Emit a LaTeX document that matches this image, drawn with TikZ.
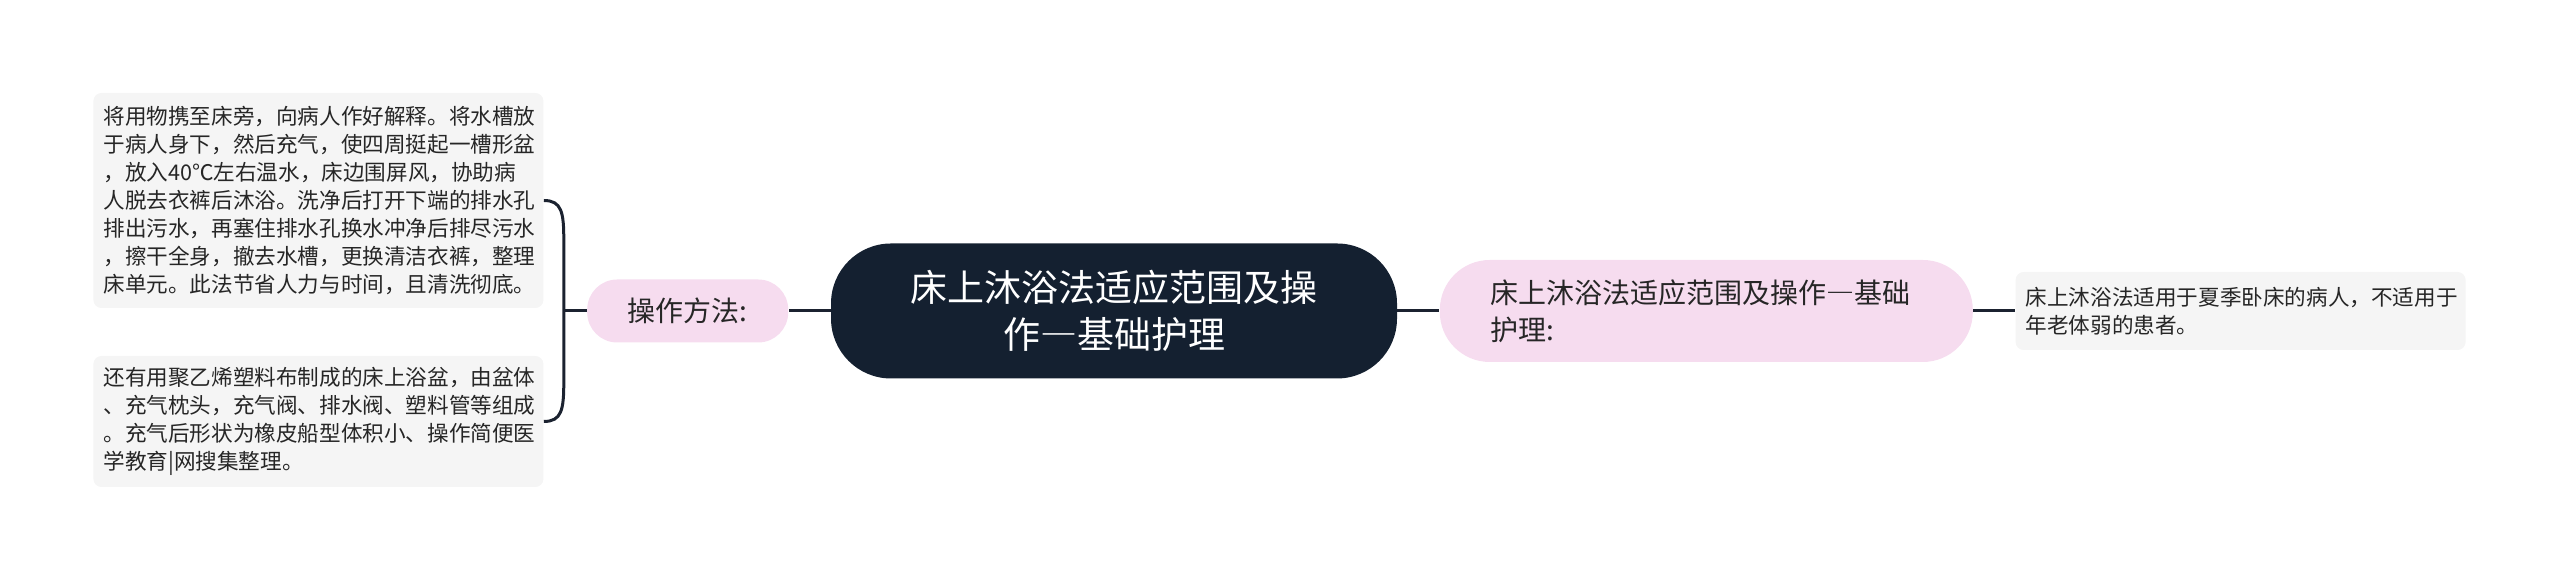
\documentclass[tikz,border=0pt]{standalone}
\usepackage{fontspec}
\newfontfamily\cjk{Noto Sans CJK SC}
\usetikzlibrary{positioning}
\definecolor{rootblue}{HTML}{142030}
\definecolor{pillpink}{HTML}{F6DCEF}
\definecolor{boxgray}{HTML}{F5F5F5}
\definecolor{linkdark}{HTML}{1B2230}

\begin{document}
\begin{tikzpicture}[
	% One unit is one pixel of the reference.
	x=0.5pt, y=0.5pt
	]
	% Define custom styles to make the code cleaner and more reusable.
	\tikzset{
		root/.style={fill=rootblue, text=white, rounded corners=30pt, minimum width=283pt, minimum height=67.5pt, align=center, font=\cjk\fontsize{18.5}{23.5}\selectfont},
		pill/.style={fill=pillpink, text=black!85, rounded corners=15pt, minimum height=31.5pt, align=left, font=\cjk\fontsize{14}{18.5}\selectfont},
		textbox/.style={fill=boxgray, text=black!85, rounded corners=4pt, inner xsep=5pt, inner ysep=5pt, text width=215pt, align=left, font=\cjk\fontsize{10.8}{14}\selectfont},
		link/.style={draw=linkdark, line width=1.5pt}
	}
	\useasboundingbox (0,0) rectangle (2560,581);

	% === NODES ===
	% The root sits in the middle, the branches hang off both sides.

	\node[root] (root) at (1114,270) {床上沐浴法适应范围及操\\作―基础护理};
	\node[pill, minimum width=100.5pt, left=21pt of root] (method) {操作方法:};
	\coordinate[left=11.5pt of method] (brace);
	\node[textbox, minimum height=107.5pt, left=10pt of brace, yshift=55.25pt] (stepsA) {将用物携至床旁，向病人作好解释。将水槽放\\于病人身下，然后充气，使四周挺起一槽形盆\\，放入40℃左右温水，床边围屏风，协助病\\人脱去衣裤后沐浴。洗净后打开下端的排水孔\\排出污水，再塞住排水孔换水冲净后排尽污水\\，擦干全身，撤去水槽，更换清洁衣裤，整理\\床单元。此法节省人力与时间，且清洗彻底。};
	\node[textbox, minimum height=65.5pt, left=10pt of brace, yshift=-55.25pt] (stepsB) {还有用聚乙烯塑料布制成的床上浴盆，由盆体\\、充气枕头，充气阀、排水阀、塑料管等组成\\。充气后形状为橡皮船型体积小、操作简便医\\学教育|网搜集整理。};
	\node[pill, minimum width=266.5pt, minimum height=51pt, rounded corners=25pt, text width=216pt, right=21pt of root] (scope) {床上沐浴法适应范围及操作―基础\\护理:};
	\node[textbox, minimum height=39pt, right=21pt of scope] (usage) {床上沐浴法适用于夏季卧床的病人，不适用于\\年老体弱的患者。};

	% === CONNECTIONS ===

	\draw[link] (root) -- (method);
	\draw[link] (method) -- (brace);
	\draw[link] (stepsA.east) .. controls +(9pt,0) and +(0,14pt) .. ([yshift=-20pt]stepsA.east -| brace) -- ([yshift=20pt]stepsB.east -| brace) .. controls +(0,-14pt) and +(9pt,0) .. (stepsB.east);
	\draw[link] (root) -- (scope);
	\draw[link] (scope) -- (usage);
\end{tikzpicture}
\end{document}
